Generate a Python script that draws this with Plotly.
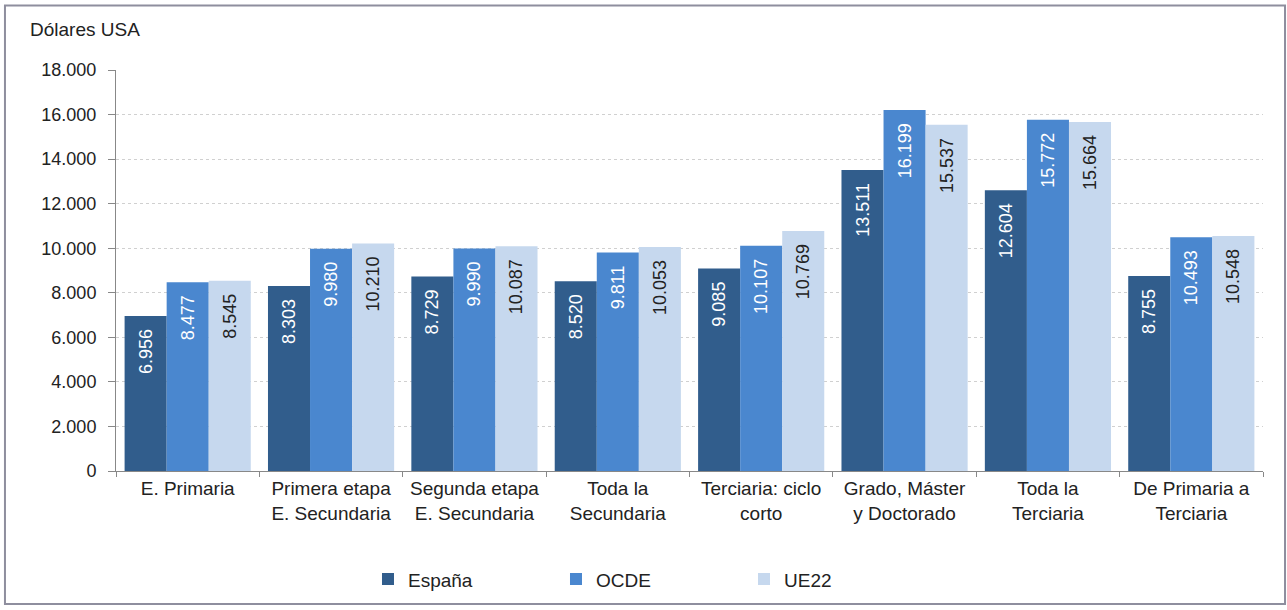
import plotly.graph_objects as go

categories = [
    "E. Primaria",
    "Primera etapa<br>E. Secundaria",
    "Segunda etapa<br>E. Secundaria",
    "Toda la<br>Secundaria",
    "Terciaria: ciclo<br>corto",
    "Grado, Máster<br>y Doctorado",
    "Toda la<br>Terciaria",
    "De Primaria a<br>Terciaria",
]
espana = [6956, 8303, 8729, 8520, 9085, 13511, 12604, 8755]
ocde = [8477, 9980, 9990, 9811, 10107, 16199, 15772, 10493]
ue22 = [8545, 10210, 10087, 10053, 10769, 15537, 15664, 10548]

series = [
    ("España", espana, "#315D8C", "white"),
    ("OCDE", ocde, "#4A87CF", "white"),
    ("UE22", ue22, "#C6D8EE", "#222222"),
]

FONT = "Liberation Sans, Arial, sans-serif"

fig = go.Figure()
for name, vals, color, txtcolor in series:
    fig.add_trace(go.Bar(
        x=categories,
        y=vals,
        name=name,
        marker_color=color,
        marker_line_width=0,
        # trailing spaces (kept by a zero-width char) push the label down from the bar top
        texttemplate="%{y:,.0f}\u00a0\u00a0\u200b",
        textposition="inside",
        insidetextanchor="end",
        textangle=-90,
        textfont=dict(color=txtcolor, size=18, family=FONT),
    ))

fig.update_layout(
    width=1287,
    height=610,
    margin=dict(l=116, r=24, t=70, b=136),
    paper_bgcolor="white",
    plot_bgcolor="white",
    separators=",.",
    barmode="group",
    bargap=0.12,
    bargroupgap=0,
    font=dict(family=FONT, size=19, color="#222222"),
    uniformtext=dict(minsize=17, mode="show"),
    legend=dict(
        orientation="h",
        x=0.2197, y=-0.27,
        xanchor="left", yanchor="middle",
        entrywidth=143,
        font=dict(size=19),
    ),
    annotations=[dict(
        text="Dólares USA", xref="paper", yref="paper",
        x=-0.077, y=1.1, xanchor="left", yanchor="middle",
        showarrow=False, font=dict(size=19),
    )],
    shapes=[dict(
        type="rect", xref="paper", yref="paper",
        x0=-0.0968, x1=1.0192, y0=-0.3317, y1=1.161,
        line=dict(color="#8E8E9E", width=2),
    )],
)

fig.update_yaxes(
    range=[0, 18000],
    dtick=2000,
    tickformat=",.0f",
    showgrid=True,
    gridcolor="#D0D0D0",
    griddash="dot",
    showline=True,
    linecolor="#888888",
    ticks="outside",
    ticklen=7,
    tickcolor="#888888",
    ticklabelstandoff=8,
    zeroline=False,
    tickfont=dict(size=18),
)
fig.update_xaxes(
    showline=True,
    linecolor="#888888",
    ticks="outside",
    tickson="boundaries",
    ticklen=5,
    tickcolor="#888888",
    tickfont=dict(size=19),
)

fig.write_html(
    "out.html",
    config={"displayModeBar": False},
    post_script="document.body.style.margin='0px';",
)
